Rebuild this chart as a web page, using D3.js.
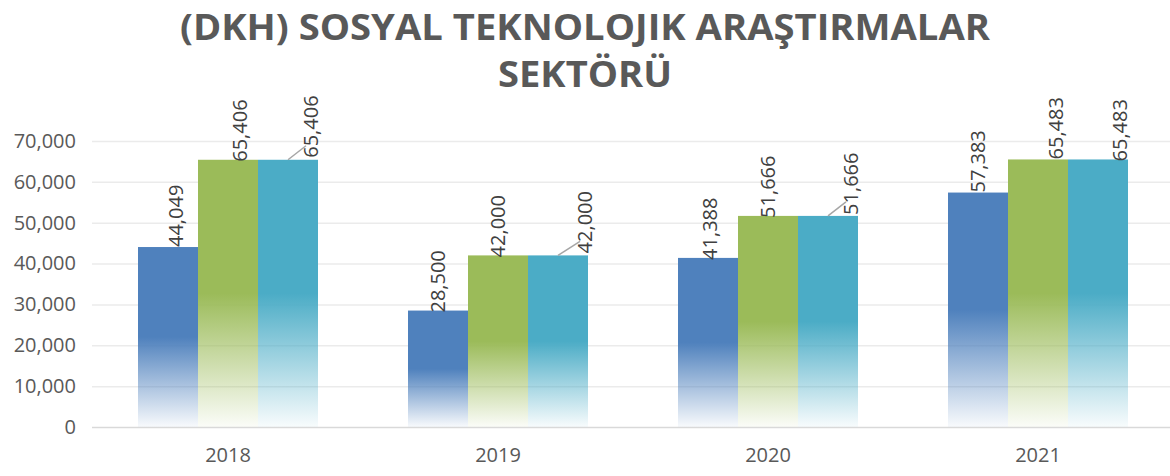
<!DOCTYPE html>
<html>
<head>
<meta charset="utf-8">
<script src="https://cdn.jsdelivr.net/npm/d3@7"></script>
<style>
  html, body { margin: 0; padding: 0; background: #ffffff; }
  svg { display: block; font-family: "Open Sans", "DejaVu Sans", sans-serif; }
</style>
</head>
<body>
<script>
// chart data
const years = ["2018", "2019", "2020", "2021"];
const seriesNames = ["s1", "s2", "s3"];
const values1 = [44049, 28500, 41388, 57383];
const values2 = [65406, 42000, 51666, 65483];
const values3 = [65406, 42000, 51666, 65483];
const yTicks = [0, 10000, 20000, 30000, 40000, 50000, 60000, 70000];
const titleLines = ["(DKH) SOSYAL TEKNOLOJIK ARAŞTIRMALAR", "SEKTÖRÜ"];

// layout
const WIDTH = 1170;
const HEIGHT = 476;
const PLOT_LEFT = 93;
const PLOT_RIGHT = 1173;
const Y_ZERO = 427;
const Y_TOP = 141;

const TITLE_WIDTHS = [810, 174];
const TITLE_BASELINES = [40, 87];

// series colours (office theme)
const COLORS = ["#4F81BD", "#9BBB59", "#4BACC6"];

// label nudges (labels were dragged by hand in the original), per series then per year
const LABEL_DX = [[8, 0, 2, 0], [12, 0, 0, 18], [23, 27, 23, 22]];
const LABEL_DY = [[-2, 0, 0, -2], [0, 0, 0, -2], [-4, -4, -3, 0]];
const HAS_LEADER = [[false, false, false, false], [false, false, false, false], [true, true, true, false]];

const allValues = [values1, values2, values3];
const table = years.map((y, i) => ({ year: y, vals: allValues.map(v => v[i]) }));

const svg = d3.select("body").append("svg")
    .attr("width", WIDTH)
    .attr("height", HEIGHT);

// gradients: solid top half, fading to white at bottom
const defs = svg.append("defs");
COLORS.forEach((c, i) => {
    const g = defs.append("linearGradient")
        .attr("id", "grad" + i)
        .attr("x1", 0).attr("y1", 0).attr("x2", 0).attr("y2", 1);
    g.append("stop").attr("offset", "0").attr("stop-color", c).attr("stop-opacity", 1);
    g.append("stop").attr("offset", "0.5").attr("stop-color", c).attr("stop-opacity", 1);
    g.append("stop").attr("offset", "1").attr("stop-color", c).attr("stop-opacity", 0.04);
});

// scales
const x0 = d3.scaleBand()
    .domain(years)
    .range([PLOT_LEFT, PLOT_RIGHT])
    .paddingInner(1 / 3)
    .paddingOuter(1 / 6);

const x1 = d3.scaleBand()
    .domain(seriesNames)
    .range([0, x0.bandwidth()]);

const y = d3.scaleLinear()
    .domain([0, 70000])
    .range([Y_ZERO, Y_TOP]);

// title
svg.append("g").selectAll("text")
    .data(titleLines)
    .enter()
    .append("text")
    .attr("x", WIDTH / 2)
    .attr("y", (d, i) => TITLE_BASELINES[i])
    .attr("text-anchor", "middle")
    .attr("textLength", (d, i) => TITLE_WIDTHS[i])
    .attr("lengthAdjust", "spacingAndGlyphs")
    .style("font-size", "36px")
    .style("font-weight", "bold")
    .style("fill", "#595959")
    .text(d => d);

// gridlines
svg.append("g")
    .attr("class", "grid")
    .attr("transform", `translate(${PLOT_LEFT - 1},0)`)
    .call(d3.axisLeft(y).tickValues(yTicks).tickSize(-(WIDTH - PLOT_LEFT + 1)).tickFormat(""))
    .call(g => g.select(".domain").remove())
    .call(g => g.selectAll("line")
        .style("stroke", d => d === 0 ? "#d9d9d9" : "#ebebeb")
        .style("stroke-width", 1.5));

// y axis labels
svg.append("g")
    .attr("transform", `translate(76,0)`)
    .call(d3.axisLeft(y).tickValues(yTicks).tickSize(0).tickPadding(0).tickFormat(d3.format(",")))
    .call(g => g.select(".domain").remove())
    .call(g => g.selectAll("text")
        .style("font-family", "'Open Sans', sans-serif")
        .style("font-size", "20px")
        .style("fill", "#595959"));

// x axis labels
svg.append("g")
    .attr("transform", `translate(0,${Y_ZERO})`)
    .call(d3.axisBottom(x0).tickSize(0).tickPadding(21))
    .call(g => g.select(".domain").remove())
    .call(g => g.selectAll("text")
        .style("font-family", "'Open Sans', sans-serif")
        .style("font-size", "20px")
        .style("fill", "#595959"));

// bars
const groups = svg.append("g").selectAll("g.year")
    .data(table)
    .enter()
    .append("g").classed("year", true)
    .attr("transform", d => `translate(${x0(d.year)},0)`);

groups.selectAll("rect")
    .data(d => d.vals.map((v, k) => ({ v, k, yi: years.indexOf(d.year) })))
    .enter()
    .append("rect")
    .attr("x", d => x1(seriesNames[d.k]))
    .attr("y", d => y(d.v))
    .attr("width", x1.bandwidth())
    .attr("height", d => y(0) - y(d.v))
    .style("fill", d => `url(#grad${d.k})`);

// leader lines
groups.selectAll("line.leader")
    .data(d => d.vals.map((v, k) => ({ v, k, yi: years.indexOf(d.year) })).filter(d => HAS_LEADER[d.k][d.yi]))
    .enter()
    .append("line").classed("leader", true)
    .attr("x1", d => x1(seriesNames[d.k]) + x1.bandwidth() / 2)
    .attr("y1", d => y(d.v))
    .attr("x2", d => x1(seriesNames[d.k]) + x1.bandwidth() / 2 + LABEL_DX[d.k][d.yi] - 5)
    .attr("y2", d => y(d.v) - 14)
    .style("stroke", "#a6a6a6")
    .style("stroke-width", 1.5);

// data labels, rotated
groups.selectAll("text.label")
    .data(d => d.vals.map((v, k) => ({ v, k, yi: years.indexOf(d.year) })))
    .enter()
    .append("text").classed("label", true)
    .attr("transform", d => {
        const cx = x1(seriesNames[d.k]) + x1.bandwidth() / 2 + LABEL_DX[d.k][d.yi];
        const cy = y(d.v) + LABEL_DY[d.k][d.yi] + 2;
        return `translate(${cx},${cy}) rotate(-90)`;
    })
    .attr("text-anchor", "start")
    .attr("dy", "0.35em")
    .style("font-size", "20px")
    .style("fill", "#404040")
    .text(d => d3.format(",")(d.v));
</script>
</body>
</html>
